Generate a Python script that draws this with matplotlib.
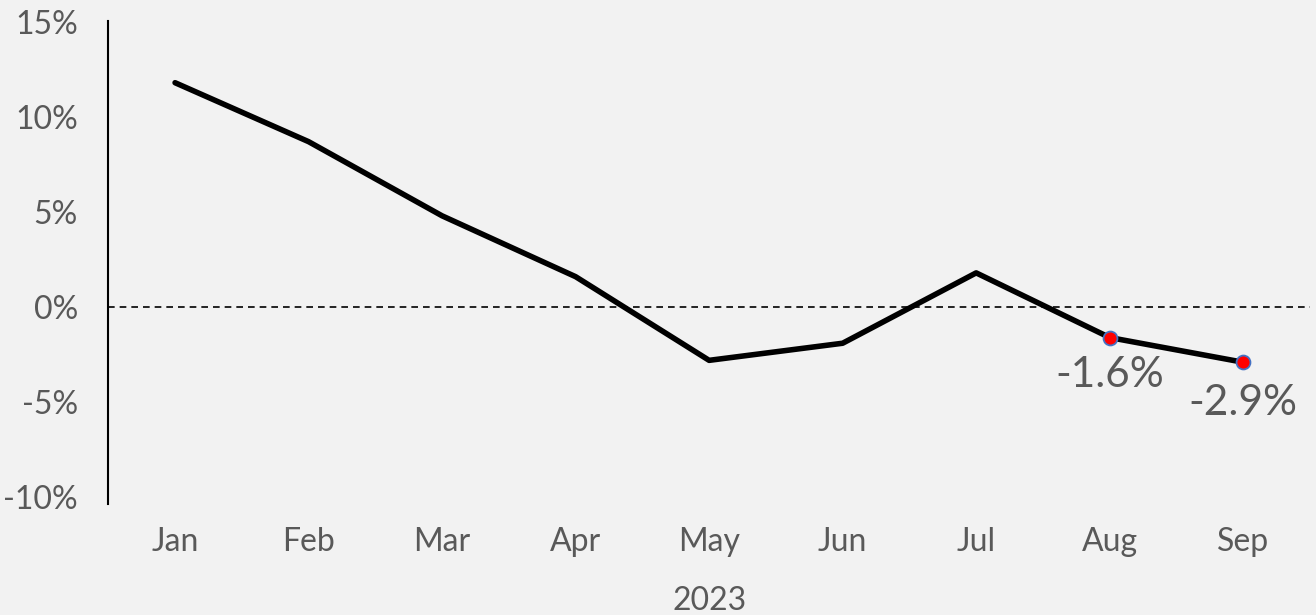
import numpy as np
import matplotlib.pyplot as plt

# datos
meses = ['Jan', 'Feb', 'Mar', 'Apr', 'May', 'Jun', 'Jul', 'Aug', 'Sep']
valores = [11.8, 8.7, 4.8, 1.6, -2.8, -1.9, 1.8, -1.6, -2.9]
etiquetas = ['-1.6%', '-2.9%']
ticks_y = [-10, -5, 0, 5, 10, 15]
anio = '2023'

plt.rcParams['font.family'] = ['Lato', 'DejaVu Sans']
gris = '#595959'
fondo = '#f2f2f2'

fig = plt.figure(figsize=(13.16, 6.15), dpi=100, facecolor=fondo)
ax = fig.add_axes([0.0823, 0.18, 0.9131, 0.786])
ax.set_facecolor(fondo)

x = np.arange(len(meses))
ax.axhline(0, color='black', lw=1.2, ls=(0, (4, 3)), zorder=1)
ax.plot(x, valores, color='black', lw=4, solid_capstyle='round', zorder=2)

# puntos finales con etiqueta
for i, txt, dy in zip([7, 8], etiquetas, [-27, -29]):
    ax.plot(x[i], valores[i], 'o', ms=10, mfc='#ff0000', mec='#4472c4', mew=1.3, zorder=3)
    ax.annotate(txt, (x[i], valores[i]), xytext=(0, dy), textcoords='offset points',
                ha='center', va='center', fontsize=30.5, color=gris)

ax.set_xlim(-0.5, 8.5)
ax.set_ylim(-10.37, 15.05)
ax.set_xticks(x)
ax.set_xticklabels(meses)
ax.set_yticks(ticks_y)
ax.set_yticklabels([f'{t}%' for t in ticks_y])
ax.tick_params(axis='both', length=0, labelsize=23, colors=gris)
ax.tick_params(axis='x', pad=16)
ax.tick_params(axis='y', pad=22)
ax.set_xlabel(anio, fontsize=23, color=gris, labelpad=21)

for s in ['top', 'right', 'bottom']:
    ax.spines[s].set_visible(False)
ax.spines['left'].set_color('black')
ax.spines['left'].set_linewidth(1.5)

fig.savefig('out.png', dpi=100, facecolor=fondo)
